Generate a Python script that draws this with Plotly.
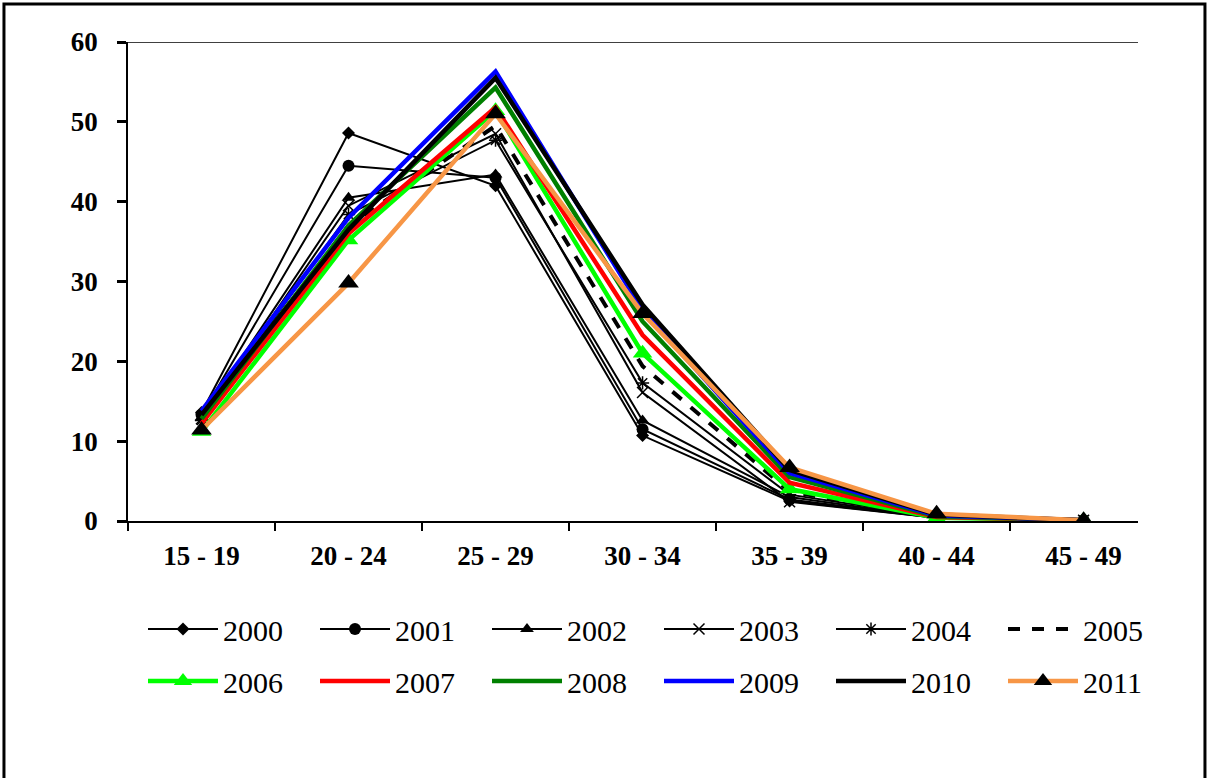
import plotly.graph_objects as go

# Age groups (x categories)
age_groups = ["15 - 19", "20 - 24", "25 - 29", "30 - 34", "35 - 39", "40 - 44", "45 - 49"]

# Age-specific rates per year
y2000 = [13.6, 48.6, 42.0, 10.7, 2.5, 0.4, 0.1]
y2001 = [13.3, 44.5, 43.0, 11.5, 2.7, 0.4, 0.1]
y2002 = [13.0, 40.5, 43.4, 12.6, 3.0, 0.4, 0.1]
y2003 = [12.8, 39.5, 48.5, 16.1, 2.4, 0.4, 0.1]
y2004 = [12.6, 38.4, 47.7, 17.3, 3.3, 0.5, 0.1]
y2005 = [12.4, 37.0, 49.5, 19.4, 3.7, 0.5, 0.1]
y2006 = [11.2, 35.2, 51.4, 21.0, 4.0, 0.4, 0.1]
y2007 = [12.2, 36.0, 51.8, 23.3, 4.8, 0.5, 0.1]
y2008 = [12.8, 37.0, 54.3, 25.0, 5.5, 0.6, 0.1]
y2009 = [13.8, 38.0, 56.3, 26.4, 6.0, 0.7, 0.1]
y2010 = [13.3, 36.5, 55.5, 27.1, 6.4, 0.8, 0.1]
y2011 = [11.4, 29.8, 51.0, 26.0, 6.7, 0.9, 0.1]

years = ["2000", "2001", "2002", "2003", "2004", "2005",
         "2006", "2007", "2008", "2009", "2010", "2011"]
series = [y2000, y2001, y2002, y2003, y2004, y2005,
          y2006, y2007, y2008, y2009, y2010, y2011]

# (line colour, line width, dash, marker symbol, marker size, marker colour)
styles = [
    ("black", 2, "solid", "diamond", 10, "black"),
    ("black", 2, "solid", "circle", 12, "black"),
    ("black", 2, "solid", "triangle-up", 12, "black"),
    ("black", 2, "solid", "x-thin-open", 11, "black"),
    ("black", 2, "solid", "asterisk-open", 11, "black"),
    ("black", 4, "dash", None, 0, None),
    ("#00FF00", 4.5, "solid", "triangle-up", 17, "#00FF00"),
    ("#FF0000", 4.5, "solid", None, 0, None),
    ("#008000", 4.5, "solid", None, 0, None),
    ("#0000FF", 4.5, "solid", None, 0, None),
    ("black", 4.5, "solid", None, 0, None),
    ("#F79646", 4.5, "solid", "triangle-up", 18, "black"),
]

# Legend rows: two rows of six entries; the last entry of each row sits in
# its own legend box so the row does not wrap
legend_of = ["legend", "legend", "legend", "legend", "legend", "legend3",
             "legend2", "legend2", "legend2", "legend2", "legend2", "legend4"]

serif = "Liberation Serif"
W, H = 1209, 778

fig = go.Figure()
for name, vals, st, lg in zip(years, series, styles, legend_of):
    color, width, dash, sym, msize, mcolor = st
    kw = dict(
        x=age_groups, y=vals, name=name,
        line=dict(color=color, width=width, dash=dash),
        legend=lg,
    )
    if sym:
        kw["mode"] = "lines+markers"
        kw["marker"] = dict(symbol=sym, size=msize, color=mcolor,
                            line=dict(color=mcolor, width=1.5 if "open" in sym else 0))
    else:
        kw["mode"] = "lines"
    fig.add_trace(go.Scatter(**kw))

# Line across the top of the plot area at 60
fig.add_shape(type="line", xref="x domain", yref="y", x0=0, x1=1, y0=60, y1=60,
              line=dict(color="black", width=1.5), layer="below")

# Outer chart frame
fig.add_shape(type="rect", xref="paper", yref="paper",
              x0=-0.1228, x1=1.0663, y0=-0.60, y1=1.0793,
              line=dict(color="black", width=3), layer="above")


def legend_box(xpx, ypx):
    return go.layout.Legend(
        orientation="h", xanchor="left", yanchor="middle",
        xref="container", yref="container",
        x=xpx / W, y=1 - ypx / H,
        font=go.layout.legend.Font(family=serif, size=30, color="black",
                                   weight="normal", style="normal"),
        entrywidth=87, entrywidthmode="pixels",
        itemwidth=70, bgcolor="rgba(0,0,0,0)", traceorder="normal",
    )


fig.update_layout(
    width=W, height=H,
    margin=dict(l=128, r=71, t=42, b=257),
    paper_bgcolor="white", plot_bgcolor="white",
    font=dict(family=serif, color="black"),
    showlegend=True,
    legend=legend_box(143, 629),
    legend3=legend_box(143 + 5 * 172, 629),
    legend2=legend_box(143, 681),
    legend4=legend_box(143 + 5 * 172, 681),
    xaxis=dict(
        type="category", range=[-0.5, 6.37], tickson="boundaries",
        showline=True, linecolor="black", linewidth=1.5,
        ticks="outside", ticklen=8, tickwidth=2, tickcolor="black",
        tickfont=dict(family=serif, size=27, color="black", weight="bold"),
        ticklabelstandoff=10, showgrid=False, zeroline=False,
    ),
    yaxis=dict(
        range=[0, 60], dtick=10,
        showline=True, linecolor="black", linewidth=1.5,
        ticks="outside", ticklen=9, tickwidth=2.5, tickcolor="black",
        tickfont=dict(family=serif, size=27, color="black", weight="bold"),
        ticklabelstandoff=14, showgrid=False, zeroline=False,
    ),
)

fig.write_html("out.html")
